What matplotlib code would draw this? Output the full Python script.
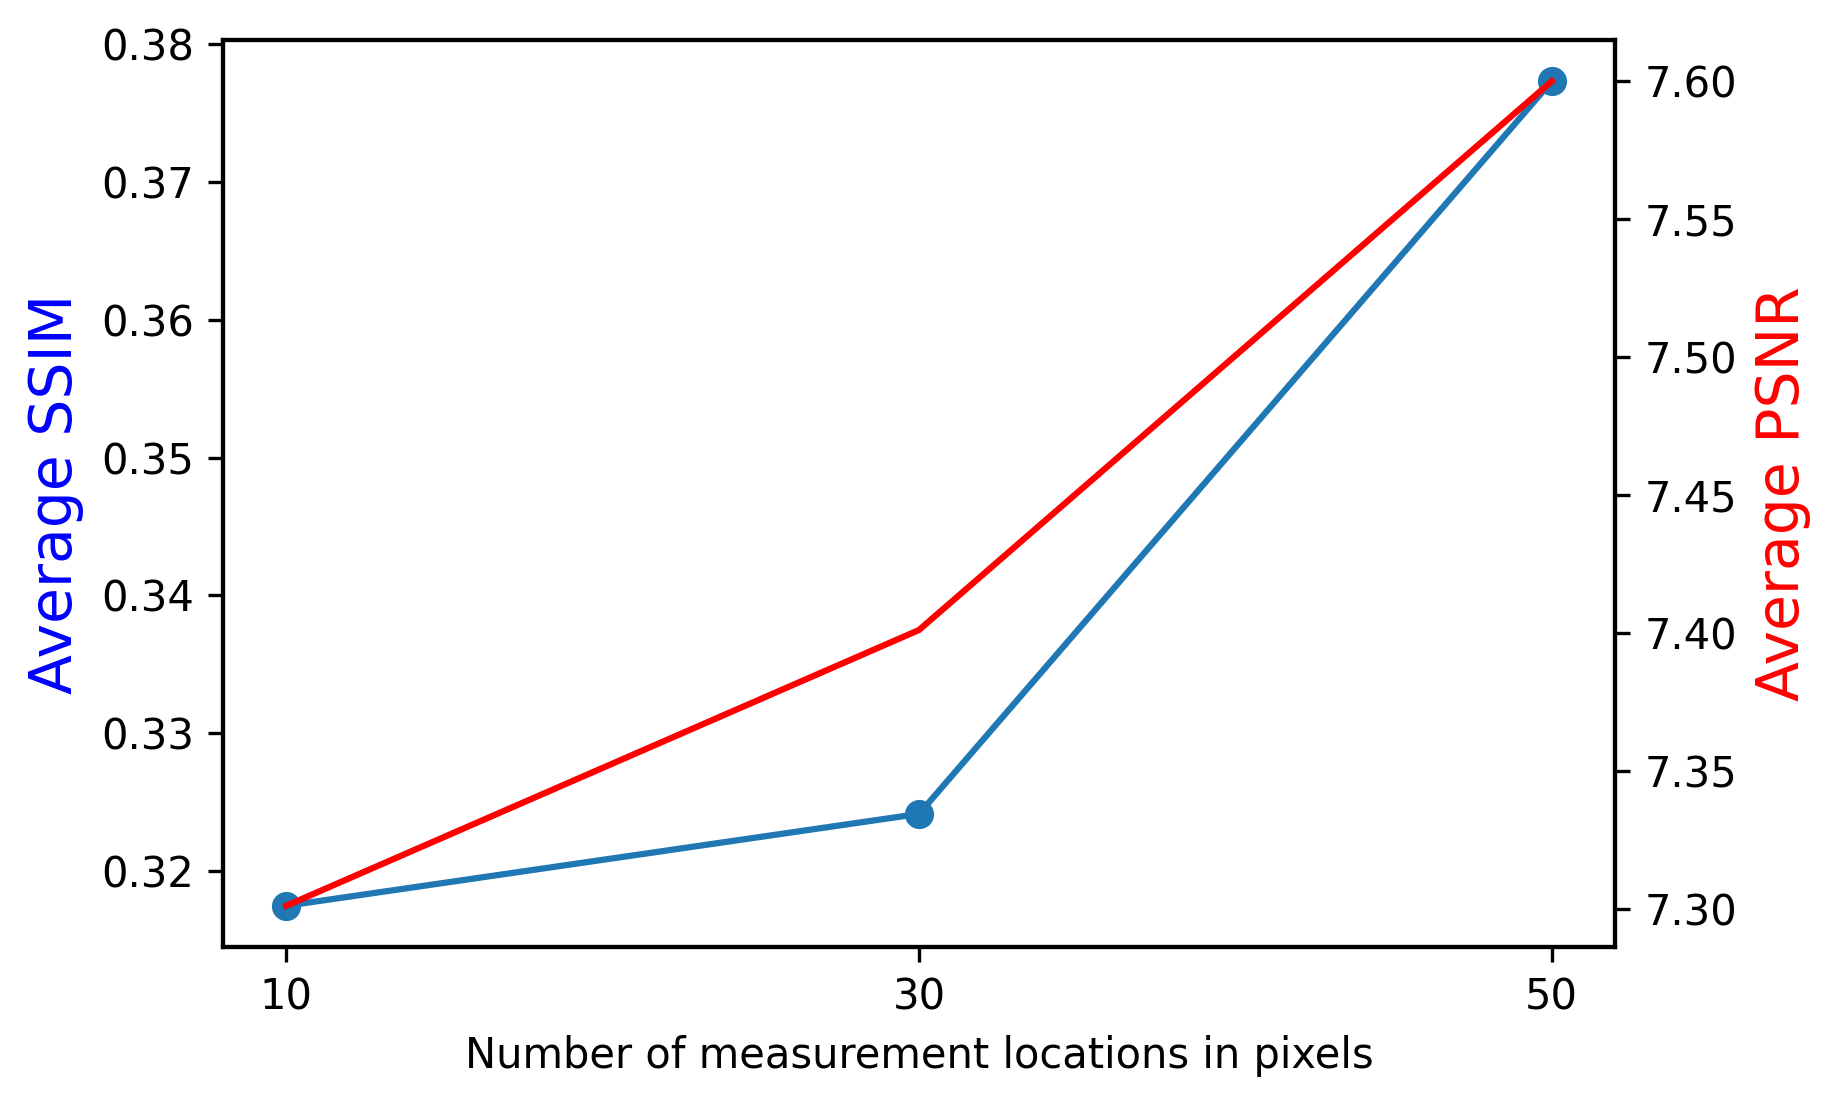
import matplotlib
matplotlib.use("Agg")
import matplotlib.pyplot as plt

locations = [10, 30, 50]
ssim = [0.31746, 0.32413, 0.37732]
psnr = [7.301, 7.401, 7.600]

DPI = 300
fig = plt.figure(figsize=(1827 / DPI, 1105 / DPI), dpi=DPI)
ax = fig.add_axes([223 / 1827, 1 - 947 / 1105, (1615 - 223) / 1827, (947 - 40) / 1105])
ax.plot(locations, ssim, marker="o", color="#1f77b4")
ax.set_xticks(locations)
ax.set_xlabel("Number of measurement locations in pixels", fontsize=10)
ax.set_ylabel("Average SSIM", color="blue", fontsize=14)
for s in ax.spines.values():
    s.set_linewidth(1.0)

ax2 = ax.twinx()
ax2.plot(locations, psnr, color="red")
ax2.set_ylabel("Average PSNR", color="red", fontsize=14)
for s in ax2.spines.values():
    s.set_linewidth(1.0)

fig.savefig("out.png", dpi=DPI)
